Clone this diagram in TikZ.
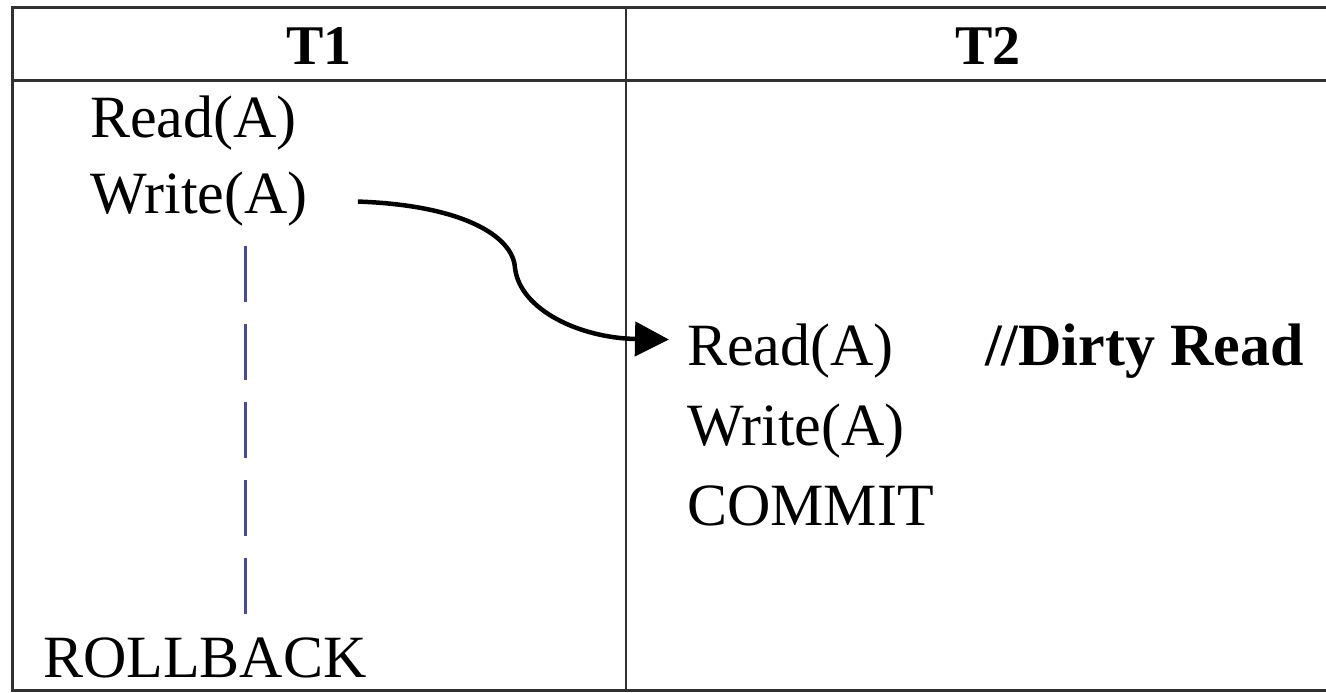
\documentclass[tikz,border=0pt]{standalone}
\usepackage{fontspec}
\setmainfont{Liberation Serif}
\usetikzlibrary{arrows.meta}
\definecolor{rulegray}{HTML}{303030}
\definecolor{dashblue}{HTML}{4A4A95}
\tikzset{
  op/.style={anchor=base west,inner sep=0pt,font=\fontsize{60}{72}\selectfont},
  head/.style={anchor=base,inner sep=0pt,font=\fontsize{56}{66}\selectfont\bfseries},
  rule/.style={rulegray,line width=3pt}
}
\begin{document}
\begin{tikzpicture}[x=1pt,y=-1pt]
\useasboundingbox (0,0) rectangle (1326,693);
% table
\draw [rule] (12,690) -- (12,8) -- (1350,8) -- (1350,690) -- cycle;
\draw [rule] (12,81) -- (1350,81);
\draw [rule,line width=2.5pt] (626,8) -- (626,690);
\node [head] (t1) at (319,65) {T1};
\node [head] (t2) at (988,65) {T2};
% T1 column
\node [op] (rd1) at (90,137) {Read(A)};
\node [op] (wr1) at (90,213) {Write(A)};
\node [op] (rb1) at (43,677) {ROLLBACK};
\coordinate (dtop) at (245,246);
\coordinate (dbot) at (245,614);
\draw [dashblue,line width=3pt,dash pattern=on 56pt off 22pt] (dtop) -- (dbot);
% T2 column
\node [op] (rd2) at (687,365) {Read(A)};
\node [op] (wr2) at (687,445) {Write(A)};
\node [op] (cm2) at (687,525) {COMMIT};
\node [op,font=\fontsize{60}{72}\selectfont\bfseries] (dirty) at (985,365) {//Dirty Read};
% dirty read arrow
\draw [line width=4.5pt,-{Triangle[length=34pt,width=34pt]}]
  ([xshift=50pt,yshift=-3pt]wr1.east) .. controls (460,205) and (513,235) .. (515,268)
  .. controls (520,310) and (580,338) .. ([xshift=-18pt,yshift=11pt]rd2.west);
\end{tikzpicture}
\end{document}
